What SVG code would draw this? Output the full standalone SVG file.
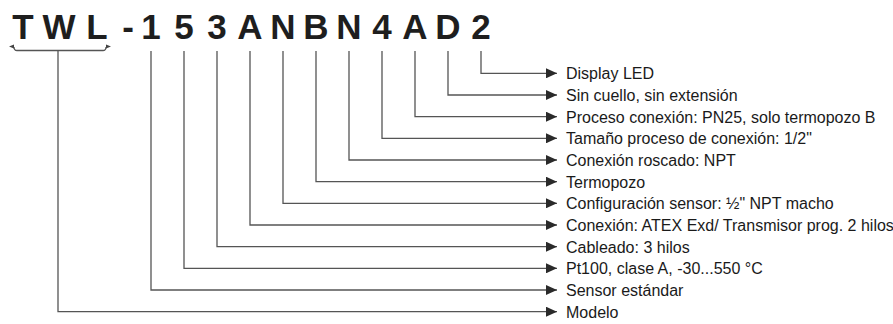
<svg xmlns="http://www.w3.org/2000/svg" width="893" height="324" viewBox="0 0 893 324">
<style>
.code{font-family:"Liberation Sans",Arial,sans-serif;font-weight:bold;font-size:35px;fill:#1e1e1e;text-anchor:middle}
.lbl{font-family:"Liberation Sans",Arial,sans-serif;font-size:16px;fill:#1a1a1a}
.c{fill:none;stroke:#555;stroke-width:1.3}
</style>
<defs>
<marker id="ah" markerWidth="12" markerHeight="10" refX="11" refY="5" orient="auto" markerUnits="userSpaceOnUse">
<path d="M0,0 L11,5 L0,10 Z" fill="#2a2a2a"/>
</marker>
</defs>
<g id="code">
<text class="code" x="23" y="39">T</text>
<text class="code" x="59" y="39">W</text>
<text class="code" x="97" y="39">L</text>
<text class="code" x="128" y="39">-</text>
<text class="code" x="151" y="39">1</text>
<text class="code" x="184" y="39">5</text>
<text class="code" x="217" y="39">3</text>
<text class="code" x="250" y="39">A</text>
<text class="code" x="283" y="39">N</text>
<text class="code" x="316" y="39">B</text>
<text class="code" x="349" y="39">N</text>
<text class="code" x="382" y="39">4</text>
<text class="code" x="415" y="39">A</text>
<text class="code" x="448" y="39">D</text>
<text class="code" x="481" y="39">2</text>
</g>
<g id="connectors">
<path class="c" d="M14,47 Q14,50.5 17,50.5 L103,50.5 Q106,50.5 106,47"/>
<path d="M9,46.5 L14,44.5 L14,48.5 Z" fill="#444"/>
<path d="M111,46.5 L106,44.5 L106,48.5 Z" fill="#444"/>
<path class="c" d="M58,50.5 V311.7 H557" marker-end="url(#ah)"/>
<path class="c" d="M151,51 V290 H557" marker-end="url(#ah)"/>
<path class="c" d="M184,51 V268.3 H557" marker-end="url(#ah)"/>
<path class="c" d="M217,51 V246.7 H557" marker-end="url(#ah)"/>
<path class="c" d="M250,51 V225 H557" marker-end="url(#ah)"/>
<path class="c" d="M283,51 V203.3 H557" marker-end="url(#ah)"/>
<path class="c" d="M316,51 V181.7 H557" marker-end="url(#ah)"/>
<path class="c" d="M349,51 V160 H557" marker-end="url(#ah)"/>
<path class="c" d="M382,51 V138.3 H557" marker-end="url(#ah)"/>
<path class="c" d="M415,51 V116.7 H557" marker-end="url(#ah)"/>
<path class="c" d="M448,51 V95 H557" marker-end="url(#ah)"/>
<path class="c" d="M481,51 V73.3 H557" marker-end="url(#ah)"/>
</g>
<g id="labels">
<text class="lbl" x="566" y="79">Display LED</text>
<text class="lbl" x="566" y="100.5">Sin cuello, sin extensión</text>
<text class="lbl" x="566" y="122.5">Proceso conexión: PN25, solo termopozo B</text>
<text class="lbl" x="566" y="144">Tamaño proceso de conexión: 1/2"</text>
<text class="lbl" x="566" y="165.5">Conexión roscado: NPT</text>
<text class="lbl" x="566" y="187.5">Termopozo</text>
<text class="lbl" x="566" y="209">Configuración sensor: ½" NPT macho</text>
<text class="lbl" x="566" y="230.5">Conexión: ATEX Exd/ Transmisor prog. 2 hilos</text>
<text class="lbl" x="566" y="252.5">Cableado: 3 hilos</text>
<text class="lbl" x="566" y="274">Pt100, clase A, -30...550 °C</text>
<text class="lbl" x="566" y="295.5">Sensor estándar</text>
<text class="lbl" x="566" y="317.5">Modelo</text>
</g>
</svg>
